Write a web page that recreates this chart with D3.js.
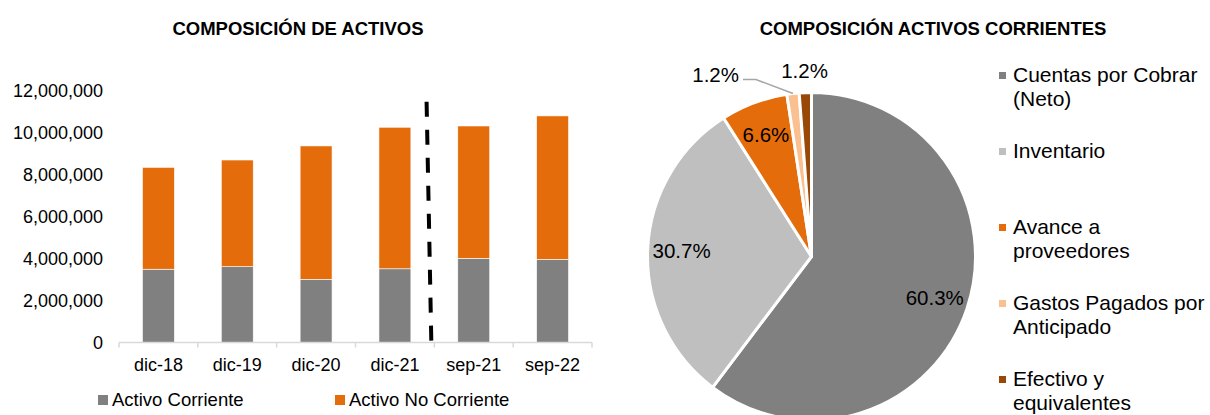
<!DOCTYPE html>
<html>
<head>
<meta charset="utf-8">
<script src="https://cdn.jsdelivr.net/npm/d3@7"></script>
<style>
  body { margin: 0; background: #fff; }
  svg { display: block; font-family: "Liberation Sans", Arial, sans-serif; }
</style>
</head>
<body>
<svg id="chart" width="1210" height="415"></svg>
<script>
// Bar chart data
const periods = ['dic-18', 'dic-19', 'dic-20', 'dic-21', 'sep-21', 'sep-22'];
const activoCorriente = [3490000, 3610000, 3010000, 3510000, 4010000, 3960000];
const activoNoCorriente = [4850000, 5080000, 6350000, 6740000, 6300000, 6830000];
const barSeries = ['Activo Corriente', 'Activo No Corriente'];
const barColors = ['#808080', '#e46c0a'];
const yTicks = [0, 2000000, 4000000, 6000000, 8000000, 10000000, 12000000];

// Pie chart data
const pieLabels = ['Cuentas por Cobrar (Neto)', 'Inventario', 'Avance a proveedores',
                   'Gastos Pagados por Anticipado', 'Efectivo y equivalentes'];
const pieLegendLines = [['Cuentas por Cobrar', '(Neto)'], ['Inventario'], ['Avance a', 'proveedores'],
                        ['Gastos Pagados por', 'Anticipado'], ['Efectivo y', 'equivalentes']];
const pieValues = [60.3, 30.7, 6.6, 1.2, 1.2];
const pieColors = ['#808080', '#bfbfbf', '#e46c0a', '#fac090', '#984807'];

const svg = d3.select('#chart');

// ---------- left: stacked bars ----------
svg.append('text')
    .attr('x', 298).attr('y', 35)
    .attr('text-anchor', 'middle')
    .style('font-size', '18.5px').style('font-weight', 'bold')
    .text('COMPOSICIÓN DE ACTIVOS');

const x = d3.scaleBand()
    .domain(periods)
    .range([119, 592])
    .paddingInner(0.595)
    .paddingOuter(0.2975);

const y = d3.scaleLinear()
    .domain([0, 12000000])
    .range([342.5, 90.5]);

// y labels (no axis line)
svg.append('g').selectAll('text')
    .data(yTicks)
    .enter().append('text')
    .attr('x', 103)
    .attr('y', d => y(d))
    .attr('dy', '0.35em')
    .attr('text-anchor', 'end')
    .style('font-size', '18px')
    .text(d => d3.format(',')(d));

const stackData = periods.map((p, i) => ({
    period: p,
    'Activo Corriente': activoCorriente[i],
    'Activo No Corriente': activoNoCorriente[i]
}));
const stacked = d3.stack().keys(barSeries)(stackData);

svg.append('g').selectAll('g')
    .data(stacked)
    .enter().append('g')
    .attr('fill', (d, i) => barColors[i])
    .selectAll('rect')
    .data(d => d)
    .enter().append('rect')
    .attr('x', d => x(d.data.period))
    .attr('y', d => y(d[1]))
    .attr('width', x.bandwidth())
    .attr('height', d => y(d[0]) - y(d[1]))
    .attr('stroke', '#fff')
    .attr('stroke-width', 0.6);

// category axis line + ticks between categories
const axisY = y(0);
svg.append('line')
    .attr('x1', x.range()[0]).attr('x2', x.range()[1])
    .attr('y1', axisY).attr('y2', axisY)
    .attr('stroke', '#d9d9d9').attr('stroke-width', 1.5);

svg.append('g').selectAll('line')
    .data(d3.range(periods.length + 1))
    .enter().append('line')
    .attr('x1', i => x.range()[0] + i * x.step())
    .attr('x2', i => x.range()[0] + i * x.step())
    .attr('y1', axisY).attr('y2', axisY + 5)
    .attr('stroke', '#d9d9d9').attr('stroke-width', 1.5);

svg.append('g').selectAll('text')
    .data(periods)
    .enter().append('text')
    .attr('x', d => x(d) + x.bandwidth() / 2)
    .attr('y', 370.5)
    .attr('text-anchor', 'middle')
    .style('font-size', '18px')
    .text(d => d);

// dashed separator between year-end and interim periods
const sepX = x('sep-21') - x.step() * x.paddingInner() / 2;
svg.append('line')
    .attr('x1', sepX - 8).attr('y1', 89)
    .attr('x2', sepX - 3).attr('y2', axisY)
    .attr('stroke', '#000').attr('stroke-width', 4)
    .attr('stroke-dasharray', '15,13')
    .attr('stroke-dashoffset', 15.3);

// bottom legend
const barLegend = svg.append('g').selectAll('g')
    .data(barSeries)
    .enter().append('g')
    .attr('transform', (d, i) => `translate(${[98, 335][i]},395)`);
barLegend.append('rect')
    .attr('width', 10).attr('height', 10)
    .attr('fill', (d, i) => barColors[i]);
barLegend.append('text')
    .attr('x', 14).attr('y', 11)
    .style('font-size', '18.5px')
    .text(d => d);

// ---------- right: pie ----------
svg.append('text')
    .attr('x', 933).attr('y', 35)
    .attr('text-anchor', 'middle')
    .style('font-size', '18.5px').style('font-weight', 'bold')
    .text('COMPOSICIÓN ACTIVOS CORRIENTES');

const cx = 811.5, cy = 256.5, radius = 164;
const pie = d3.pie().sort(null).value(d => d);
const arcs = pie(pieValues);
const arc = d3.arc().innerRadius(0).outerRadius(radius);
const labelArc = d3.arc().innerRadius(130).outerRadius(130);
const outerArc = d3.arc().innerRadius(186).outerRadius(186);
const edgeArc = d3.arc().innerRadius(radius).outerRadius(radius);

const pieG = svg.append('g').attr('transform', `translate(${cx},${cy})`);
pieG.selectAll('path')
    .data(arcs)
    .enter().append('path')
    .attr('d', arc)
    .attr('fill', (d, i) => pieColors[i])
    .attr('stroke', '#fff')
    .attr('stroke-width', 3)
    .attr('stroke-linejoin', 'round');

const fmtPct = v => v.toFixed(1) + '%';

// inside labels for the three large slices
pieG.selectAll('text.in')
    .data(arcs.slice(0, 3))
    .enter().append('text')
    .attr('class', 'in')
    .attr('transform', d => `translate(${labelArc.centroid(d)})`)
    .attr('text-anchor', 'middle')
    .attr('dy', '0.35em')
    .style('font-size', '20.5px')
    .text(d => fmtPct(d.data));

// Efectivo label straight above its slice
const efec = arcs[4];
pieG.append('text')
    .attr('transform', `translate(${outerArc.centroid(efec)})`)
    .attr('text-anchor', 'middle')
    .attr('dy', '0.35em')
    .style('font-size', '20.5px')
    .text(fmtPct(efec.data));

// Gastos label pulled to the left with a leader line
const gastos = arcs[3];
const p0 = edgeArc.centroid(gastos);
const p1 = [p0[0] - 37, p0[1] - 14];
const p2 = [p1[0] - 13, p1[1]];
pieG.append('polyline')
    .attr('points', [p0, p1, p2].map(p => p.join(',')).join(' '))
    .attr('fill', 'none')
    .attr('stroke', '#a6a6a6')
    .attr('stroke-width', 1.5);
pieG.append('text')
    .attr('x', p2[0] - 4).attr('y', p2[1])
    .attr('dy', '0.1em')
    .attr('text-anchor', 'end')
    .style('font-size', '20.5px')
    .text(fmtPct(gastos.data));

// right legend
const pieLegend = svg.append('g').selectAll('g')
    .data(pieLabels)
    .enter().append('g')
    .attr('transform', (d, i) => `translate(999,${82 + i * 76})`);
pieLegend.append('rect')
    .attr('y', -10).attr('width', 7).attr('height', 7)
    .attr('fill', (d, i) => pieColors[i]);
pieLegend.append('text')
    .attr('x', 14)
    .style('font-size', '21px')
    .selectAll('tspan')
    .data((d, i) => pieLegendLines[i])
    .enter().append('tspan')
    .attr('x', 14)
    .attr('dy', (d, j) => j === 0 ? 0 : 24)
    .text(d => d);
</script>
</body>
</html>
